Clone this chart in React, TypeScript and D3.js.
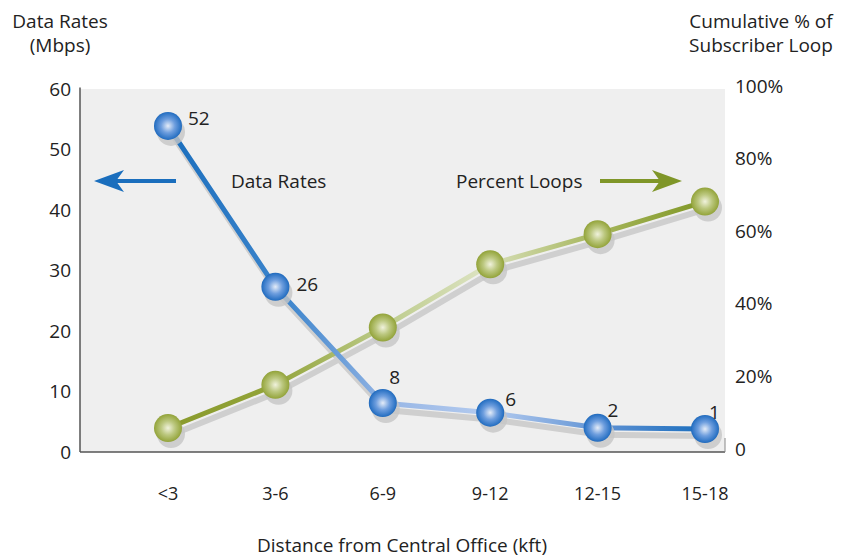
import React from 'react';
import * as d3 from 'd3';

const categories = ['<3', '3-6', '6-9', '9-12', '12-15', '15-18'];
// where the points sit on the chart vs. the numbers printed next to them
const dataRates = [53.9, 27.3, 8.1, 6.5, 4.0, 3.8];
const dataRateLabels = ['52', '26', '8', '6', '2', '1'];
const percentLoops = [6.6, 18.5, 34.3, 51.7, 60.0, 69.0];
const leftTicks = [0, 10, 20, 30, 40, 50, 60];
const rightTicks = [0, 20, 40, 60, 80, 100];

const W = 844;
const H = 558;
const left = 80;
const right = 725;
const top = 89;
const bottom = 452;
const font = '"Open Sans", "DejaVu Sans", sans-serif';
const fs = 19;

// label placement relative to each blue marker
const labelDx = [20, 21, 12, 15, 10, 4];
const labelDy = [-8, -2, -26, -13, -17, -17];

export default function App() {
  const x = d3.scalePoint<string>().domain(categories).range([168, 705]);
  const yL = d3.scaleLinear().domain([0, 60]).range([bottom, top]);
  const yR = d3.scaleLinear().domain([0, 100]).range([bottom, top]);

  const blue = categories.map((c, i) => [x(c)!, yL(dataRates[i])] as [number, number]);
  const green = categories.map((c, i) => [x(c)!, yR(percentLoops[i])] as [number, number]);
  const line = d3.line();
  const x0 = x(categories[0])!;
  const x1 = x(categories[categories.length - 1])!;

  return (
    <svg width={W} height={H} style={{ display: 'block', position: 'absolute', left: 0, top: 0 }} fontFamily={font}>
      <defs>
        <linearGradient id="grid" x1="0" x2="1" y1="0" y2="0">
          <stop offset="0" stopColor="#7a7a7a" />
          <stop offset="1" stopColor="#b8b8b8" />
        </linearGradient>
        <linearGradient id="blueLine" gradientUnits="userSpaceOnUse" x1={x0} x2={x1} y1="0" y2="0">
          <stop offset="0" stopColor="#1a6ebd" />
          <stop offset="0.22" stopColor="#3d85cc" />
          <stop offset="0.42" stopColor="#9ab8e6" />
          <stop offset="0.6" stopColor="#b4cbef" />
          <stop offset="0.82" stopColor="#5a8fd2" />
          <stop offset="1" stopColor="#1a6ebd" />
        </linearGradient>
        <linearGradient id="greenLine" gradientUnits="userSpaceOnUse" x1={x0} x2={x1} y1="0" y2="0">
          <stop offset="0" stopColor="#899a2c" />
          <stop offset="0.2" stopColor="#93a43a" />
          <stop offset="0.4" stopColor="#bccb8a" />
          <stop offset="0.58" stopColor="#dbe2c0" />
          <stop offset="0.8" stopColor="#a6b65c" />
          <stop offset="1" stopColor="#809726" />
        </linearGradient>
        <radialGradient id="blueBall" cx="0.5" cy="0.5" r="0.55" fx="0.5" fy="0.5">
          <stop offset="0" stopColor="#e4ecf8" />
          <stop offset="0.45" stopColor="#6e9ede" />
          <stop offset="0.85" stopColor="#2a72c4" />
          <stop offset="1" stopColor="#105aa8" />
        </radialGradient>
        <radialGradient id="greenBall" cx="0.5" cy="0.5" r="0.55" fx="0.5" fy="0.5">
          <stop offset="0" stopColor="#f0f2dc" />
          <stop offset="0.45" stopColor="#bcc880" />
          <stop offset="0.85" stopColor="#98a842" />
          <stop offset="1" stopColor="#84962c" />
        </radialGradient>
      </defs>

      <rect x={left} y={top} width={right - left} height={bottom - top} fill="#efefef" />
      {leftTicks.slice(1).map(t => (
        <line key={t} x1={left} x2={right} y1={yL(t)} y2={yL(t)} stroke="url(#grid)" strokeWidth={3} />
      ))}
      <line x1={left} x2={left} y1={top - 1.5} y2={bottom} stroke="#555" strokeWidth={1.5} />
      <line x1={left} x2={right} y1={bottom} y2={bottom} stroke="#555" strokeWidth={1.5} />
      <line x1={right} x2={right} y1={bottom - 14} y2={bottom} stroke="#888" strokeWidth={1} />

      {leftTicks.map(t => (
        <text key={t} x={71} y={yL(t)} dy="0.35em" textAnchor="end" fontSize={fs} fill="#222">{t}</text>
      ))}
      {rightTicks.map(t => (
        <text key={t} x={735} y={yR(t) - 3} dy="0.35em" fontSize={fs} fill="#222">{t === 0 ? '0' : t + '%'}</text>
      ))}

      <text x={60} y={28} textAnchor="middle" fontSize={fs} fill="#222">Data Rates</text>
      <text x={60} y={52} textAnchor="middle" fontSize={fs} fill="#222">(Mbps)</text>
      <text x={761} y={28} textAnchor="middle" fontSize={fs} fill="#222">Cumulative % of</text>
      <text x={761} y={52} textAnchor="middle" fontSize={fs} fill="#222">Subscriber Loop</text>

      {categories.map(c => (
        <text key={c} x={x(c)} y={500} textAnchor="middle" fontSize={18} fill="#222">{c}</text>
      ))}
      <text x={402} y={552} textAnchor="middle" fontSize={fs} fill="#222">Distance from Central Office (kft)</text>

      {/* direction arrows */}
      <line x1={176} x2={108} y1={181} y2={181} stroke="#1a6ebd" strokeWidth={4} />
      <path d="M94,181 L124,170 L116,181 L124,192 Z" fill="#1a6ebd" />
      <text x={231} y={181} dy="0.35em" fontSize={fs} fill="#222">Data Rates</text>
      <line x1={600} x2={668} y1={181} y2={181} stroke="#7f9628" strokeWidth={4} />
      <path d="M682,181 L652,170 L660,181 L652,192 Z" fill="#7f9628" />
      <text x={456} y={181} dy="0.35em" fontSize={fs} fill="#222">Percent Loops</text>

      {/* shadows */}
      <g transform="translate(3,7)">
        <path d={line(green)!} fill="none" stroke="#cfcfcf" strokeWidth={6} />
        <path d={line(blue)!} fill="none" stroke="#cfcfcf" strokeWidth={6} />
      </g>
      <path d={line(green)!} fill="none" stroke="url(#greenLine)" strokeWidth={5} />
      <path d={line(blue)!} fill="none" stroke="url(#blueLine)" strokeWidth={5} />

      {green.map(([cx, cy], i) => (
        <g key={'g' + i}>
          <circle cx={cx + 3} cy={cy + 6} r={14} fill="#c6c6c6" opacity={0.8} />
          <circle cx={cx} cy={cy} r={14} fill="url(#greenBall)" />
        </g>
      ))}
      {blue.map(([cx, cy], i) => (
        <g key={'b' + i}>
          <circle cx={cx + 3} cy={cy + 6} r={14} fill="#c6c6c6" opacity={0.8} />
          <circle cx={cx} cy={cy} r={14} fill="url(#blueBall)" />
          <text x={cx + labelDx[i]} y={cy + labelDy[i]} dy="0.35em" fontSize={fs} fill="#222"
            textAnchor={i === 2 ? 'middle' : 'start'}>{dataRateLabels[i]}</text>
        </g>
      ))}
    </svg>
  );
}
